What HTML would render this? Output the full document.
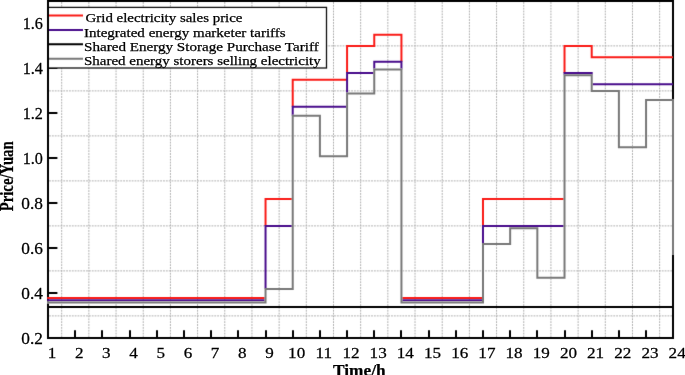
<!DOCTYPE html><html><head><meta charset="utf-8"><style>html,body{margin:0;padding:0;background:#fff;overflow:hidden;}svg{display:block;}</style></head><body>
<svg width="685" height="375" viewBox="0 0 685 375">
<defs><filter id="b" x="0" y="0" width="685" height="375" filterUnits="userSpaceOnUse" color-interpolation-filters="sRGB"><feConvolveMatrix order="3" kernelMatrix="0.0064 0.0672 0.0064 0.0672 0.7056 0.0672 0.0064 0.0672 0.0064" divisor="1" edgeMode="duplicate"/></filter></defs>
<g filter="url(#b)"><rect width="685" height="375" fill="#fff"/>
<g stroke="#b2b2b2" stroke-width="1" stroke-dasharray="1.9,0.95" fill="none"><line x1="61.69" y1="2" x2="61.69" y2="337"/><line x1="88.87" y1="2" x2="88.87" y2="337"/><line x1="116.05" y1="2" x2="116.05" y2="337"/><line x1="143.23" y1="2" x2="143.23" y2="337"/><line x1="170.41" y1="2" x2="170.41" y2="337"/><line x1="197.59" y1="2" x2="197.59" y2="337"/><line x1="224.77" y1="2" x2="224.77" y2="337"/><line x1="251.95" y1="2" x2="251.95" y2="337"/><line x1="279.13" y1="2" x2="279.13" y2="337"/><line x1="306.31" y1="2" x2="306.31" y2="337"/><line x1="333.49" y1="2" x2="333.49" y2="337"/><line x1="360.67" y1="2" x2="360.67" y2="337"/><line x1="387.85" y1="2" x2="387.85" y2="337"/><line x1="415.03" y1="2" x2="415.03" y2="337"/><line x1="442.21" y1="2" x2="442.21" y2="337"/><line x1="469.39" y1="2" x2="469.39" y2="337"/><line x1="496.57" y1="2" x2="496.57" y2="337"/><line x1="523.75" y1="2" x2="523.75" y2="337"/><line x1="550.93" y1="2" x2="550.93" y2="337"/><line x1="578.11" y1="2" x2="578.11" y2="337"/><line x1="605.29" y1="2" x2="605.29" y2="337"/><line x1="632.47" y1="2" x2="632.47" y2="337"/><line x1="659.65" y1="2" x2="659.65" y2="337"/><line x1="49" y1="315.9" x2="672" y2="315.9"/><line x1="49" y1="270.9" x2="672" y2="270.9"/><line x1="49" y1="225.9" x2="672" y2="225.9"/><line x1="49" y1="180.9" x2="672" y2="180.9"/><line x1="49" y1="135.9" x2="672" y2="135.9"/><line x1="49" y1="90.9" x2="672" y2="90.9"/><line x1="49" y1="45.9" x2="672" y2="45.9"/><line x1="49" y1="0.9" x2="672" y2="0.9"/></g>
<path d="M75,338 V330.2 M102,338 V330.2 M130,338 V330.2 M157,338 V330.2 M184,338 V330.2 M211,338 V330.2 M238,338 V330.2 M266,338 V330.2 M293,338 V330.2 M320,338 V330.2 M347,338 V330.2 M374,338 V330.2 M401,338 V330.2 M429,338 V330.2 M456,338 V330.2 M483,338 V330.2 M510,338 V330.2 M537,338 V330.2 M565,338 V330.2 M592,338 V330.2 M619,338 V330.2 M646,338 V330.2 M48,293 H57.4 M48,248 H57.4 M48,203 H57.4 M48,158 H57.4 M48,113 H57.4 M48,68 H57.4 M48,23 H57.4" stroke="#000" stroke-width="2" fill="none"/>
<rect x="48" y="1" width="625" height="337" stroke="#000" stroke-width="2" fill="none"/>
<rect x="48" y="7.4" width="278.5" height="60.6" fill="#fff" stroke="#111" stroke-width="1.3"/>
<line x1="48" y1="1" x2="48" y2="69" stroke="#000" stroke-width="2"/>
<path d="M47.2,297.9 L265.54,297.9 M265.54,225.9 L265.54,198.9 L292.72,198.9 M292.72,106.65 L292.72,79.65 L347.08,79.65 M347.08,72.9 L347.08,45.9 L374.26,45.9 L374.26,34.65 L401.44,34.65 L401.44,61.65 M401.44,297.9 L482.98,297.9 M482.98,225.9 L482.98,198.9 L564.52,198.9 M564.52,72.9 L564.52,45.9 L591.7,45.9 L591.7,57.15 L673,57.15" stroke="#fa1c18" stroke-width="2" fill="none"/>
<path d="M47.2,300.15 L265.54,300.15 M265.54,288.9 L265.54,225.9 L292.72,225.9 M292.72,115.65 L292.72,106.65 L347.08,106.65 M347.08,93.6 L347.08,72.9 L374.26,72.9 M374.26,69.52 L374.26,61.65 L401.44,61.65 L401.44,69.52 M401.44,300.15 L482.98,300.15 M482.98,243.9 L482.98,225.9 L564.52,225.9 M564.52,75.15 L564.52,72.9 L591.7,72.9 L591.7,75.15 M591.7,84.15 L673,84.15" stroke="#4a0e8c" stroke-width="2" fill="none"/>
<path d="M47.2,307 L673,307" stroke="#000" stroke-width="2" fill="none"/>
<path d="M47.2,302.4 L265.54,302.4 L265.54,288.9 L292.72,288.9 L292.72,115.65 L319.9,115.65 L319.9,156.15 L347.08,156.15 L347.08,93.6 L374.26,93.6 L374.26,69.52 L401.44,69.52 L401.44,302.4 L482.98,302.4 L482.98,243.9 L510.16,243.9 L510.16,228.15 L537.34,228.15 L537.34,277.65 L564.52,277.65 L564.52,75.15 L591.7,75.15 L591.7,90.9 L618.88,90.9 L618.88,147.15 L646.06,147.15 L646.06,99.9 L673,99.9 L673,254.5" stroke="#fff" stroke-width="2" fill="none"/>
<path d="M47.2,302.4 L265.54,302.4 L265.54,288.9 L292.72,288.9 L292.72,115.65 L319.9,115.65 L319.9,156.15 L347.08,156.15 L347.08,93.6 L374.26,93.6 L374.26,69.52 L401.44,69.52 L401.44,302.4 L482.98,302.4 L482.98,243.9 L510.16,243.9 L510.16,228.15 L537.34,228.15 L537.34,277.65 L564.52,277.65 L564.52,75.15 L591.7,75.15 L591.7,90.9 L618.88,90.9 L618.88,147.15 L646.06,147.15 L646.06,99.9 L673,99.9 L673,254.5" stroke="#787878" stroke-width="2" fill="none"/>
<line x1="49" y1="15.6" x2="83" y2="15.6" stroke="#fa1c18" stroke-width="2"/>
<line x1="49" y1="29.95" x2="83" y2="29.95" stroke="#4a0e8c" stroke-width="2"/>
<line x1="49" y1="44.3" x2="83" y2="44.3" stroke="#000" stroke-width="2"/>
<line x1="49" y1="58.8" x2="83" y2="58.8" stroke="#787878" stroke-width="2"/>
</g>
<text x="85.5" y="22.2" font-family="Liberation Serif, serif" font-size="13.3" stroke="#000" stroke-width="0.25" textLength="157" lengthAdjust="spacingAndGlyphs">Grid electricity sales price</text><text x="84" y="36.55" font-family="Liberation Serif, serif" font-size="13.3" stroke="#000" stroke-width="0.25" textLength="201.7" lengthAdjust="spacingAndGlyphs">Integrated energy marketer tariffs</text><text x="84" y="50.9" font-family="Liberation Serif, serif" font-size="13.3" stroke="#000" stroke-width="0.25" textLength="234.7" lengthAdjust="spacingAndGlyphs">Shared Energy Storage Purchase Tariff</text><text x="84" y="65.4" font-family="Liberation Serif, serif" font-size="13.3" stroke="#000" stroke-width="0.25" textLength="236.7" lengthAdjust="spacingAndGlyphs">Shared energy storers selling electricity</text>
<g font-family="Liberation Serif, serif" font-size="16" fill="#000" stroke="#000" stroke-width="0.25"><text transform="translate(52,358.1) scale(1.14,1)" text-anchor="middle" font-size="15">1</text><text transform="translate(79.18,358.1) scale(1.14,1)" text-anchor="middle" font-size="15">2</text><text transform="translate(106.36,358.1) scale(1.14,1)" text-anchor="middle" font-size="15">3</text><text transform="translate(133.54,358.1) scale(1.14,1)" text-anchor="middle" font-size="15">4</text><text transform="translate(160.72,358.1) scale(1.14,1)" text-anchor="middle" font-size="15">5</text><text transform="translate(187.9,358.1) scale(1.14,1)" text-anchor="middle" font-size="15">6</text><text transform="translate(215.08,358.1) scale(1.14,1)" text-anchor="middle" font-size="15">7</text><text transform="translate(242.26,358.1) scale(1.14,1)" text-anchor="middle" font-size="15">8</text><text transform="translate(269.44,358.1) scale(1.14,1)" text-anchor="middle" font-size="15">9</text><text transform="translate(296.62,358.1) scale(1.14,1)" text-anchor="middle" font-size="15">10</text><text transform="translate(323.8,358.1) scale(1.14,1)" text-anchor="middle" font-size="15">11</text><text transform="translate(350.98,358.1) scale(1.14,1)" text-anchor="middle" font-size="15">12</text><text transform="translate(378.16,358.1) scale(1.14,1)" text-anchor="middle" font-size="15">13</text><text transform="translate(405.34,358.1) scale(1.14,1)" text-anchor="middle" font-size="15">14</text><text transform="translate(432.52,358.1) scale(1.14,1)" text-anchor="middle" font-size="15">15</text><text transform="translate(459.7,358.1) scale(1.14,1)" text-anchor="middle" font-size="15">16</text><text transform="translate(486.88,358.1) scale(1.14,1)" text-anchor="middle" font-size="15">17</text><text transform="translate(514.06,358.1) scale(1.14,1)" text-anchor="middle" font-size="15">18</text><text transform="translate(541.24,358.1) scale(1.14,1)" text-anchor="middle" font-size="15">19</text><text transform="translate(568.42,358.1) scale(1.14,1)" text-anchor="middle" font-size="15">20</text><text transform="translate(595.6,358.1) scale(1.14,1)" text-anchor="middle" font-size="15">21</text><text transform="translate(622.78,358.1) scale(1.14,1)" text-anchor="middle" font-size="15">22</text><text transform="translate(649.96,358.1) scale(1.14,1)" text-anchor="middle" font-size="15">23</text><text transform="translate(677.14,358.1) scale(1.14,1)" text-anchor="middle" font-size="15">24</text><text transform="translate(42.9,344) scale(1.08,1)" text-anchor="end">0.2</text><text transform="translate(42.9,299) scale(1.08,1)" text-anchor="end">0.4</text><text transform="translate(42.9,254) scale(1.08,1)" text-anchor="end">0.6</text><text transform="translate(42.9,209) scale(1.08,1)" text-anchor="end">0.8</text><text transform="translate(42.9,164) scale(1.01,1)" text-anchor="end">1.0</text><text transform="translate(42.9,119) scale(1.01,1)" text-anchor="end">1.2</text><text transform="translate(42.9,74) scale(1.01,1)" text-anchor="end">1.4</text><text transform="translate(42.9,29) scale(1.01,1)" text-anchor="end">1.6</text></g>
<text x="359.3" y="375.8" text-anchor="middle" font-family="Liberation Serif, serif" font-weight="bold" font-size="17" stroke="#000" stroke-width="0.25" textLength="52.5" lengthAdjust="spacingAndGlyphs">Time/h</text>
<text transform="translate(12.6,176.3) rotate(-90)" text-anchor="middle" font-family="Liberation Serif, serif" font-weight="bold" font-size="18" stroke="#000" stroke-width="0.25" textLength="70" lengthAdjust="spacingAndGlyphs">Price/Yuan</text>
</svg></body></html>
